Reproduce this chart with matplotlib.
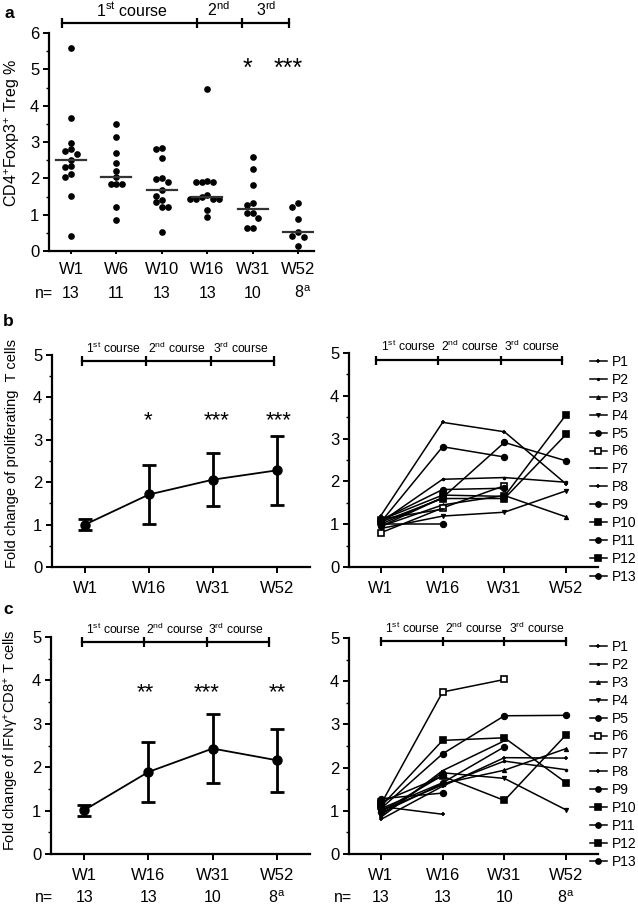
import numpy as np
import matplotlib
matplotlib.use("Agg")
import matplotlib.pyplot as plt

plt.rcParams["font.family"] = ["Liberation Sans", "DejaVu Sans"]
plt.rcParams["mathtext.default"] = "regular"

W, H = 638, 907
nan = np.nan

# ---- panel a: Treg % per week ----
a_weeks = ["W1", "W6", "W10", "W16", "W31", "W52"]
a_n = ["13", "11", "13", "13", "10", "8$^{a}$"]
a_w1 = [5.58, 3.67, 2.98, 2.80, 2.76, 2.67, 2.50, 2.33, 2.30, 2.12, 2.03, 1.52, 0.42]
a_w6 = [3.49, 3.13, 2.69, 2.43, 2.21, 2.04, 1.85, 1.84, 1.84, 1.22, 0.85]
a_w10 = [2.84, 2.82, 2.56, 2.01, 1.97, 1.89, 1.67, 1.52, 1.40, 1.34, 1.21, 1.21, 0.52]
a_w16 = [4.47, 1.92, 1.91, 1.89, 1.89, 1.55, 1.48, 1.44, 1.43, 1.42, 1.42, 1.14, 0.94]
a_w31 = [2.60, 2.25, 1.81, 1.32, 1.26, 1.05, 1.05, 0.91, 0.64, 0.63]
a_w52 = [1.31, 1.21, 0.88, 0.53, 0.40, 0.39, 0.13]

# ---- panels b/c: summary (mean +- err) ----
bc_weeks = ["W1", "W16", "W31", "W52"]
bc_n = ["13", "13", "10", "8$^{a}$"]
b_mean = [1.00, 1.71, 2.06, 2.28]
b_err = [0.13, 0.70, 0.62, 0.82]
b_stars = ["", "*", "***", "***"]
c_mean = [1.01, 1.89, 2.43, 2.16]
c_err = [0.13, 0.70, 0.79, 0.72]
c_stars = ["", "**", "***", "**"]

# ---- panels b/c: per patient (W1, W16, W31, W52) ----
patients = ["P%d" % i for i in range(1, 14)]
b_pat = [
    [1.20, 3.38, 3.16, 1.94],
    [1.05, 2.05, 2.09, 1.98],
    [0.95, 1.45, 1.67, 1.17],
    [0.90, 1.19, 1.28, 1.78],
    [1.05, 2.81, 2.57, nan],
    [0.80, 1.38, 1.90, nan],
    [1.12, 1.35, nan, nan],
    [1.00, 1.62, nan, nan],
    [0.95, 1.62, 2.91, 2.48],
    [1.10, 1.68, 1.65, 3.56],
    [1.00, 1.00, nan, nan],
    [1.05, 1.60, 1.60, 3.10],
    [1.10, 1.81, 1.84, nan],
]
c_pat = [
    [1.10, 0.92, nan, nan],
    [1.00, 1.60, 2.15, 1.95],
    [0.95, 1.63, 1.94, 2.44],
    [0.90, 1.88, 1.75, 1.02],
    [1.05, 2.32, 3.20, 3.21],
    [1.15, 3.75, 4.04, nan],
    [0.85, 1.93, 2.62, nan],
    [0.80, 1.57, 2.23, 2.22],
    [1.05, 1.65, 2.48, nan],
    [1.20, 1.80, 1.24, 2.76],
    [1.28, 1.41, nan, nan],
    [1.10, 2.63, 2.69, 1.65],
    [0.98, 1.82, nan, nan],
]
pat_markers = ["+", ".", "^", "v", "o", "s", "_", "+", "o", "s", "o", "s", "o"]
pat_msize = [3.5, 3.5, 3, 3, 4.5, 4.5, 3.5, 3.5, 4.5, 4.5, 4.5, 4.5, 4.5]

fig = plt.figure(figsize=(W / 100, H / 100), dpi=100)


def px_axes(l, t, r, b):
    return fig.add_axes([l / W, 1 - b / H, (r - l) / W, (b - t) / H])


def style(ax):
    for s in ("top", "right"):
        ax.spines[s].set_visible(False)
    for s in ("left", "bottom"):
        ax.spines[s].set_linewidth(1.6)
    ax.tick_params(direction="out", width=1.4, length=4, labelsize=12, pad=3)
    ax.tick_params(which="minor", direction="out", width=1.0, length=2.5)
    ax.tick_params(axis="x", pad=6)


def bracket(ax, xs, y, h, lw=1.6):
    ax.plot([xs[0], xs[-1]], [y, y], color="k", lw=lw, clip_on=False)
    ax.vlines(xs, y - h, y + h, color="k", lw=lw, clip_on=False)


def swarm(vals, dy, dx):
    placed, offs = [], []
    cands = [0.0]
    for i in range(1, 8):
        cands += [-i * dx, i * dx]
    for v in vals:
        for c in cands:
            if all(not (abs(v - pv) < dy and abs(c - pc) < dx * 0.99) for pv, pc in placed):
                break
        placed.append((v, c))
        offs.append(c)
    return offs


def n_row(ax, labels, y_px, ax_top, ax_bot, shift_last=0.0):
    for i, t in enumerate(labels):
        dx = shift_last if i == len(labels) - 1 else 0.0
        ax.text(i + dx, -(y_px - ax_bot) / (ax_bot - ax_top), t,
                transform=ax.get_xaxis_transform(), ha="center", va="center", fontsize=11.5)


# ================= panel a =================
ax = px_axes(49, 33, 314, 251)
style(ax)
groups = [a_w1, a_w6, a_w10, a_w16, a_w31, a_w52]
for i, g in enumerate(groups):
    offs = swarm(g, 0.15, 0.125)
    ax.plot(np.array(offs) + i, g, "o", color="k", ms=3.8, clip_on=False)
    med = np.median(g)
    ax.plot([i - 0.33, i + 0.33], [med, med], color="#333333", lw=1.6)
ax.set_xlim(-0.485, 5.35)
ax.set_ylim(0, 6)
ax.set_yticks(range(7))
ax.set_yticks(np.arange(0.5, 6, 1), minor=True)
ax.set_xticks(range(6))
ax.set_xticklabels(a_weeks)
ax.tick_params(axis="x", length=2)
bracket(ax, [-0.2, 2.78, 3.77, 4.8], 6.28, 0.14)
ax.text(1.34, 6.64, "1$^{st}$ course", ha="center", va="center", fontsize=11.5)
ax.text(3.24, 6.64, "2$^{nd}$", ha="center", va="center", fontsize=11.5)
ax.text(4.3, 6.64, "3$^{rd}$", ha="center", va="center", fontsize=11.5)
ax.text(3.88, 5.0, "*", ha="center", va="center", fontsize=18)
ax.text(4.78, 5.0, "***", ha="center", va="center", fontsize=18)
fig.text(12 / W, 1 - 133 / H, "CD4$^{+}$Foxp3$^{+}$ Treg %", rotation=90,
         ha="center", va="center", fontsize=11.5)
fig.text(9 / W, 1 - 14 / H, "a", fontweight="bold", fontsize=12.5, ha="center", va="center")
fig.text(44 / W, 1 - 293 / H, "n=", fontsize=11.5, ha="center", va="center")
n_row(ax, a_n, 293, 33, 251, shift_last=0.1)


def course_labels(ax, lab_xs, lab_y):
    for lx, lab in zip(lab_xs, ["1$^{st}$ course", "2$^{nd}$ course", "3$^{rd}$ course"]):
        ax.text(lx, lab_y, lab, ha="center", va="center", fontsize=8.7)


def summary(ax, mean, err, stars, star_xs, star_y, lab_xs, lab_y, br_xs, br_y):
    style(ax)
    x = np.arange(len(mean))
    ax.errorbar(x, mean, yerr=err, color="k", lw=1.3, elinewidth=2.0,
                capsize=5, capthick=2.0, marker="o", ms=6.5, clip_on=False)
    ax.set_xlim(-0.516, 3.516)
    ax.set_ylim(0, 5)
    ax.set_yticks(range(6))
    ax.set_yticks(np.arange(0.5, 5, 1), minor=True)
    ax.set_xticks(x)
    ax.set_xticklabels(bc_weeks)
    for sx, s in zip(star_xs, stars):
        if s:
            ax.text(sx, star_y, s, ha="center", va="center", fontsize=16)
    bracket(ax, br_xs, br_y, 0.11)
    course_labels(ax, lab_xs, lab_y)


def spaghetti(ax, pats, lab_xs, lab_y, br_xs, br_y, leg_top):
    style(ax)
    x = np.arange(4)
    handles = []
    for name, vals, m, ms in zip(patients, pats, pat_markers, pat_msize):
        fc = "white" if name == "P6" else "k"
        h, = ax.plot(x, vals, color="k", lw=1.1, marker=m, ms=ms, mfc=fc,
                     mec="k", mew=1.2 if m in "+_s" else 0.8, label=name, clip_on=False)
        handles.append(h)
    ax.set_xlim(-0.516, 3.516)
    ax.set_ylim(0, 5)
    ax.set_yticks(range(6))
    ax.set_yticks(np.arange(0.5, 5, 1), minor=True)
    ax.set_xticks(x)
    ax.set_xticklabels(bc_weeks)
    bracket(ax, br_xs, br_y, 0.11)
    course_labels(ax, lab_xs, lab_y)
    fig.legend(handles=handles, loc="upper left",
               bbox_to_anchor=(590 / W, 1 - leg_top / H), frameon=False,
               fontsize=10, handlelength=1.2, handletextpad=0.4, markerscale=0.9,
               labelspacing=0.28, borderpad=0, borderaxespad=0, numpoints=1)


# ================= panel b =================
ax = px_axes(52, 355, 310, 567)
summary(ax, b_mean, b_err, b_stars, [0, 0.98, 2.05, 3.02], 3.45,
        [0.45, 1.43, 2.44], 5.16, [-0.04, 0.96, 1.97, 2.95], 4.86)
fig.text(12 / W, 1 - 453 / H, "Fold change of proliferating  T cells", rotation=90,
         ha="center", va="center", fontsize=10.5)
fig.text(8 / W, 1 - 322 / H, "b", fontweight="bold", fontsize=12.5, ha="center", va="center")

ax = px_axes(349, 353, 598, 567)
spaghetti(ax, b_pat, [0.44, 1.44, 2.45], 5.16, [-0.08, 0.92, 1.94, 2.94], 4.83, 355)

# ================= panel c =================
ax = px_axes(51, 637, 310, 854)
summary(ax, c_mean, c_err, c_stars, [0, 0.95, 1.9, 3.0], 3.72,
        [0.45, 1.41, 2.37], 5.17, [-0.04, 0.93, 1.91, 2.87], 4.88)
fig.text(12 / W, 1 - 740 / H, "Fold change of IFN\u03b3$^{+}$CD8$^{+}$ T cells", rotation=90,
         ha="center", va="center", fontsize=10.5)
fig.text(8 / W, 1 - 609 / H, "c", fontweight="bold", fontsize=12.5, ha="center", va="center")
fig.text(44 / W, 1 - 898 / H, "n=", fontsize=11.5, ha="center", va="center")
n_row(ax, bc_n, 898, 637, 854)

ax = px_axes(349, 638, 598, 854)
spaghetti(ax, c_pat, [0.51, 1.51, 2.53], 5.23, [0, 1, 2, 3], 4.92, 640)
fig.text(343 / W, 1 - 898 / H, "n=", fontsize=11.5, ha="center", va="center")
n_row(ax, bc_n, 898, 638, 854)

fig.savefig("out.png", dpi=100)
